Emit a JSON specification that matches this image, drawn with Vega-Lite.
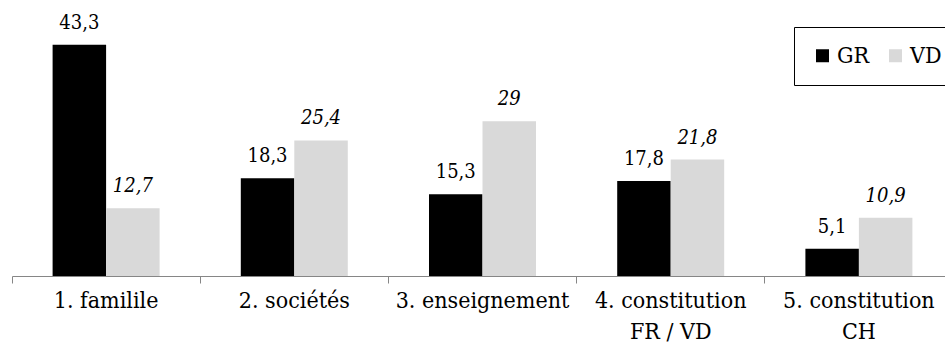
{
  "$schema": "https://vega.github.io/schema/vega-lite/v6.json",
  "width": 933,
  "height": 276,
  "autosize": {"type": "none"},
  "padding": {"left": 12, "top": 0, "right": 0, "bottom": 75},
  "background": "white",
  "config": {
    "view": {"stroke": null},
    "font": "DejaVu Serif Condensed",
    "locale": {"number": {"decimal": ",", "thousands": " ", "grouping": [3], "currency": ["", " €"]}}
  },
  "data": {
    "values": [
      {"cat": "1. familile", "series": "GR", "value": 43.3},
      {"cat": "1. familile", "series": "VD", "value": 12.7},
      {"cat": "2. sociétés", "series": "GR", "value": 18.3},
      {"cat": "2. sociétés", "series": "VD", "value": 25.4},
      {"cat": "3. enseignement", "series": "GR", "value": 15.3},
      {"cat": "3. enseignement", "series": "VD", "value": 29},
      {"cat": "4. constitution|FR / VD", "series": "GR", "value": 17.8},
      {"cat": "4. constitution|FR / VD", "series": "VD", "value": 21.8},
      {"cat": "5. constitution|CH", "series": "GR", "value": 5.1},
      {"cat": "5. constitution|CH", "series": "VD", "value": 10.9}
    ]
  },
  "encoding": {
    "x": {
      "field": "cat",
      "type": "nominal",
      "title": null,
      "scale": {"range": [0, 941], "paddingInner": 0, "paddingOuter": 0},
      "axis": {
        "labelAngle": 0,
        "labelExpr": "split(datum.label, '|')",
        "labelFont": "DejaVu Serif Condensed",
        "labelFontSize": 23,
        "labelColor": "black",
        "labelLineHeight": 31,
        "labelBaseline": "top",
        "labelPadding": 6,
        "bandPosition": 0,
        "tickSize": 7,
        "tickColor": "#868686",
        "domainColor": "#868686",
        "domainWidth": 1,
        "labelLimit": 0
      }
    },
    "xOffset": {
      "field": "series",
      "type": "nominal",
      "scale": {"paddingInner": 0, "paddingOuter": 0.759}
    },
    "y": {
      "field": "value",
      "type": "quantitative",
      "scale": {"domain": [0, 51.7], "nice": false, "zero": true},
      "axis": null
    }
  },
  "layer": [
    {
      "mark": {"type": "bar"},
      "encoding": {
        "color": {
          "field": "series",
          "type": "nominal",
          "scale": {"domain": ["GR", "VD"], "range": ["#000000", "#d9d9d9"]},
          "legend": {
            "title": null,
            "orient": "none",
            "direction": "horizontal",
            "legendX": 782,
            "legendY": 27,
            "strokeColor": "black",
            "padding": 17,
            "symbolType": "square",
            "symbolSize": 169,
            "symbolStrokeWidth": 0,
            "labelFont": "DejaVu Serif Condensed",
            "labelFontSize": 23,
            "labelColor": "black",
            "labelOffset": 3,
            "columnPadding": 14
          }
        }
      }
    },
    {
      "transform": [{"filter": "datum.series === 'GR'"}],
      "mark": {"type": "text", "baseline": "alphabetic", "dy": -16, "fontSize": 20, "font": "DejaVu Serif Condensed", "color": "black"},
      "encoding": {"text": {"field": "value", "type": "quantitative", "format": ".1~f"}}
    },
    {
      "transform": [{"filter": "datum.series === 'VD'"}],
      "mark": {"type": "text", "baseline": "alphabetic", "dy": -16, "fontSize": 20, "font": "DejaVu Serif Condensed", "fontStyle": "italic", "color": "black"},
      "encoding": {"text": {"field": "value", "type": "quantitative", "format": ".1~f"}}
    }
  ]
}
